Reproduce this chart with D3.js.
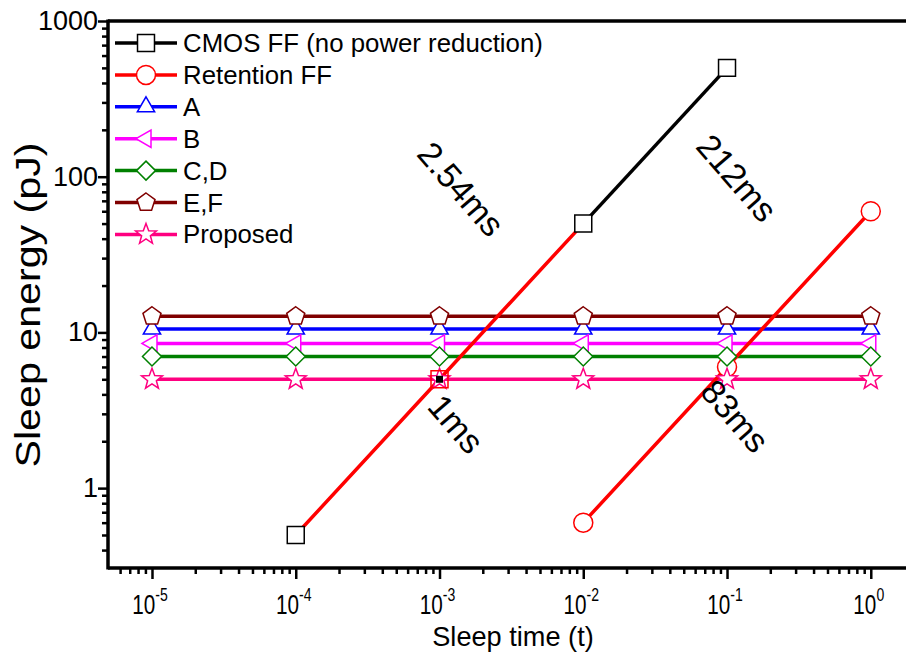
<!DOCTYPE html>
<html>
<head>
<meta charset="utf-8">
<script src="https://cdn.jsdelivr.net/npm/d3@7"></script>
<style>
  body { margin: 0; background: #fff; }
  text { font-family: "Liberation Sans", Arial, sans-serif; }
</style>
</head>
<body>
<div id="chart"></div>
<script>
// Data
const sleepTimes = [1e-5, 1e-4, 1e-3, 1e-2, 1e-1, 1];
const cmosTimes = [1e-4, 1e-3, 1e-2, 1e-1];
const cmosEnergy = [0.5, 5, 50, 500];
const retentionTimes = [1e-2, 1e-1, 1];
const retentionEnergy = [0.6, 6, 60];
const energyA = [10.5, 10.5, 10.5, 10.5, 10.5, 10.5];
const energyB = [8.5, 8.5, 8.5, 8.5, 8.5, 8.5];
const energyCD = [7.0, 7.0, 7.0, 7.0, 7.0, 7.0];
const energyEF = [12.7, 12.7, 12.7, 12.7, 12.7, 12.7];
const energyProposed = [5.0, 5.0, 5.0, 5.0, 5.0, 5.0];
const legendNames = ["CMOS FF (no power reduction)", "Retention FF", "A", "B", "C,D", "E,F", "Proposed"];
const xTickExps = [-5, -4, -3, -2, -1, 0];
const yTickValues = [1, 10, 100, 1000];
const crossLabels = ["2.54ms", "212ms", "1ms", "83ms"];

const W = 906, H = 653;
const svg = d3.select("#chart").append("svg")
    .attr("width", W).attr("height", H);

const pLeft = 108, pRight = 906, pTop = 21, pBottom = 568;

const x = d3.scaleLog()
    .domain([Math.pow(10, -5.306), Math.pow(10, 0.245)])
    .range([pLeft, pRight]);
const y = d3.scaleLog()
    .domain([Math.pow(10, -0.513), 1000])
    .range([pBottom, pTop]);

// marker shapes
function polygon(n, r, rot) {
    const pts = d3.range(n).map(i => {
        const a = rot + i * 2 * Math.PI / n;
        return [r * Math.cos(a), r * Math.sin(a)];
    });
    return "M" + pts.map(p => p.join(",")).join("L") + "Z";
}
function star(ro, ri) {
    const pts = d3.range(10).map(i => {
        const a = -Math.PI / 2 + i * Math.PI / 5;
        const r = i % 2 ? ri : ro;
        return [r * Math.cos(a), r * Math.sin(a)];
    });
    return "M" + pts.map(p => p.join(",")).join("L") + "Z";
}
const shapes = {
    square: polygon(4, 12, Math.PI / 4),
    circle: "M9.5,0A9.5,9.5 0 1,1 -9.5,0A9.5,9.5 0 1,1 9.5,0Z",
    up: polygon(3, 10, -Math.PI / 2),
    leftTri: polygon(3, 10, Math.PI),
    diamond: polygon(4, 9.5, 0),
    pentagon: polygon(5, 9.5, -Math.PI / 2),
    star: star(11, 4.6)
};

const flatSeries = [
    { name: "A", values: energyA, color: "#0000ff", shape: "up" },
    { name: "B", values: energyB, color: "#ff00ff", shape: "leftTri" },
    { name: "C,D", values: energyCD, color: "#008000", shape: "diamond" },
    { name: "E,F", values: energyEF, color: "#800000", shape: "pentagon" },
    { name: "Proposed", values: energyProposed, color: "#ff0080", shape: "star" }
];

const line = d3.line().x(d => x(d[0])).y(d => y(d[1]));
const plot = svg.append("g");

// horizontal series lines
flatSeries.forEach(s => {
    plot.append("path")
        .datum(sleepTimes.map((t, i) => [t, s.values[i]]))
        .attr("d", line)
        .attr("fill", "none")
        .attr("stroke", s.color)
        .attr("stroke-width", 3.5);
});

// CMOS FF: first segments drawn red, last black
const cmosPts = cmosTimes.map((t, i) => [t, cmosEnergy[i]]);
plot.append("path").datum(cmosPts.slice(0, 3)).attr("d", line)
    .attr("fill", "none").attr("stroke", "#ff0000").attr("stroke-width", 3.5);
plot.append("path").datum(cmosPts.slice(2)).attr("d", line)
    .attr("fill", "none").attr("stroke", "#000").attr("stroke-width", 3.5);

// Retention FF
const retPts = retentionTimes.map((t, i) => [t, retentionEnergy[i]]);
plot.append("path").datum(retPts).attr("d", line)
    .attr("fill", "none").attr("stroke", "#ff0000").attr("stroke-width", 3.5);

function markers(pts, shape, color, fill) {
    plot.selectAll(null).data(pts).join("path")
        .attr("transform", d => `translate(${x(d[0])},${y(d[1])})`)
        .attr("d", shapes[shape])
        .attr("fill", fill)
        .attr("stroke", color)
        .attr("stroke-width", 1.5);
}

markers(retPts, "circle", "#ff0000", "#fff");
flatSeries.forEach(s => {
    markers(sleepTimes.map((t, i) => [t, s.values[i]]), s.shape, s.color, "#fff");
});
// CMOS markers on top
markers(cmosPts.filter((d, i) => i !== 1), "square", "#000", "#fff");
markers([cmosPts[1]], "square", "#ff0000", "none");
plot.append("rect")
    .attr("x", x(cmosPts[1][0]) - 3.5).attr("y", y(cmosPts[1][1]) - 3.5)
    .attr("width", 7).attr("height", 7).attr("fill", "#000");

// Axes
const xMajor = xTickExps.map(e => Math.pow(10, e));
const xMinor = [];
d3.range(-6, 1).forEach(e => {
    for (let k = 2; k <= 9; k++) {
        const v = k * Math.pow(10, e);
        if (x(v) > pLeft + 2 && x(v) < pRight) xMinor.push(v);
    }
});
const yMinor = [];
d3.range(-1, 3).forEach(e => {
    for (let k = 2; k <= 9; k++) {
        const v = k * Math.pow(10, e);
        if (y(v) < pBottom - 2) yMinor.push(v);
    }
});

const xAxisG = svg.append("g").attr("transform", `translate(0,${pBottom})`);
xAxisG.call(d3.axisBottom(x).tickValues(xMajor).tickSize(11).tickFormat(""));
xAxisG.append("g").call(d3.axisBottom(x).tickValues(xMinor).tickSize(6).tickFormat(""));
xAxisG.selectAll(".domain").remove();
xAxisG.selectAll("line").attr("stroke", "#000").attr("stroke-width", 2.5);

const yAxisG = svg.append("g").attr("transform", `translate(${pLeft},0)`);
yAxisG.call(d3.axisLeft(y).tickValues(yTickValues).tickSize(10).tickFormat(""));
yAxisG.append("g").call(d3.axisLeft(y).tickValues(yMinor).tickSize(6).tickFormat(""));
yAxisG.selectAll(".domain").remove();
yAxisG.selectAll("line").attr("stroke", "#000").attr("stroke-width", 2.5);

// frame lines
svg.append("line").attr("x1", pLeft).attr("x2", pRight).attr("y1", pBottom).attr("y2", pBottom)
    .attr("stroke", "#000").attr("stroke-width", 3.5);
svg.append("line").attr("x1", pLeft).attr("x2", pLeft).attr("y1", pTop - 1.5).attr("y2", pBottom + 1.5)
    .attr("stroke", "#000").attr("stroke-width", 3.5);
svg.append("line").attr("x1", pLeft).attr("x2", pRight).attr("y1", pTop).attr("y2", pTop)
    .attr("stroke", "#000").attr("stroke-width", 3.5);

// x tick labels 10^n
xTickExps.forEach(e => {
    const g = svg.append("g")
        .attr("transform", `translate(${x(Math.pow(10, e)) - 2},614) scale(0.74,1)`);
    const t = g.append("text").attr("text-anchor", "middle").attr("font-size", 28);
    t.append("tspan").text("10");
    t.append("tspan").attr("dy", -13).attr("font-size", 19).text(e);
});

// y tick labels
yTickValues.forEach(v => {
    svg.append("text")
        .attr("x", 98).attr("y", y(v) + 9)
        .attr("text-anchor", "end")
        .attr("font-size", 27)
        .text(v);
});

// axis titles
svg.append("text")
    .attr("transform", "translate(513,646) scale(0.97,1)")
    .attr("text-anchor", "middle")
    .attr("font-size", 28)
    .text("Sleep time (t)");
svg.append("text")
    .attr("transform", "translate(40,305) rotate(-90)")
    .attr("text-anchor", "middle")
    .attr("font-size", 35)
    .attr("textLength", 325)
    .attr("lengthAdjust", "spacingAndGlyphs")
    .text("Sleep energy (pJ)");

// legend
const legendStyle = [
    { color: "#000", shape: "square" },
    { color: "#ff0000", shape: "circle" },
    { color: "#0000ff", shape: "up" },
    { color: "#ff00ff", shape: "leftTri" },
    { color: "#008000", shape: "diamond" },
    { color: "#800000", shape: "pentagon" },
    { color: "#ff0080", shape: "star" }
];
const legend = svg.append("g");
legendNames.forEach((name, i) => {
    const cy = 43 + i * 31.9;
    const st = legendStyle[i];
    legend.append("line").attr("x1", 115).attr("x2", 177).attr("y1", cy).attr("y2", cy)
        .attr("stroke", st.color).attr("stroke-width", 3.5);
    legend.append("path")
        .attr("transform", `translate(146,${cy})`)
        .attr("d", shapes[st.shape])
        .attr("fill", "#fff").attr("stroke", st.color).attr("stroke-width", 1.5);
    legend.append("text").attr("x", 183).attr("y", cy + 9)
        .attr("font-size", 25.8).text(name);
});

// crossover annotations
const labelPos = [[461, 189], [737, 178], [456, 424], [735, 416]];
crossLabels.forEach((s, i) => {
    svg.append("text")
        .attr("transform", `translate(${labelPos[i][0]},${labelPos[i][1]}) rotate(49)`)
        .attr("text-anchor", "middle")
        .attr("dy", "0.35em")
        .attr("font-size", 34)
        .text(s);
});
</script>
</body>
</html>
